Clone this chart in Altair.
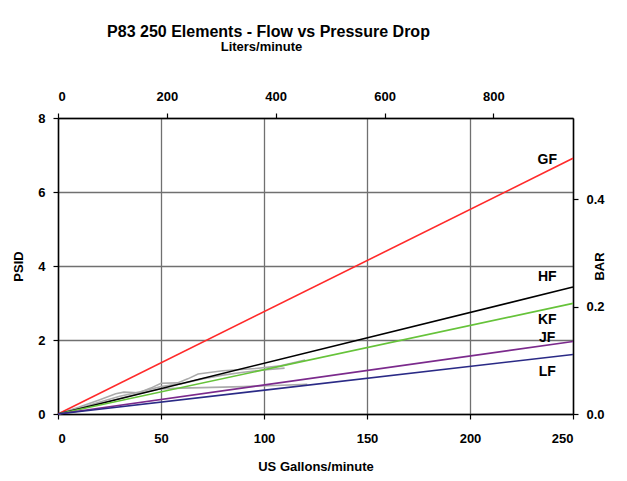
import altair as alt
import pandas as pd

# ---- data ----
series = ["GF", "HF", "KF", "JF", "LF"]
colors = ["#ff2a2a", "#000000", "#66c33a", "#7b2a8c", "#2a2a86"]
gpm_points = [0, 250]
psid_at_250 = [6.91, 3.43, 2.99, 1.96, 1.61]

label_gpm = [237.5, 237.5, 237.5, 237.5, 237.5]
label_psid = [6.87, 3.69, 2.54, 2.05, 1.14]

test1_gpm = [0, 10, 20, 28, 32, 39, 45, 50, 58, 63, 68, 80, 96, 108, 120]
test1_psid = [0, 0.18, 0.38, 0.55, 0.59, 0.57, 0.70, 0.83, 0.84, 0.95, 1.08, 1.17, 1.23, 1.30, 1.46]
test2_gpm = [0, 10, 20, 30, 40, 50, 60, 70, 80, 90, 100, 110]
test2_psid = [0, 0.15, 0.32, 0.48, 0.60, 0.74, 0.82, 0.95, 1.05, 1.13, 1.19, 1.24]
test3_gpm = [0, 10, 20, 30, 40, 50, 60, 75, 90, 105, 121]
test3_psid = [0, 0.13, 0.27, 0.42, 0.56, 0.68, 0.70, 0.72, 0.74, 0.77, 0.80]

gpm_ticks = [0, 50, 100, 150, 200, 250]
psid_ticks = [0, 2, 4, 6, 8]
lpm_ticks = [0, 200, 400, 600, 800]
bar_ticks = [0.0, 0.2, 0.4]

GPM_MAX = 250
PSID_MAX = 8
LPM_MAX = GPM_MAX * 3.78541
BAR_MAX = PSID_MAX * 0.0689476

# ---- tables ----
main_rows = []
for s, end in zip(series, psid_at_250):
    for g in gpm_points:
        main_rows.append({"series": s, "gpm": g, "psid": end * g / GPM_MAX})
main_df = pd.DataFrame(main_rows)

gray_rows = []
for cid, (gx, gy) in enumerate([(test1_gpm, test1_psid), (test2_gpm, test2_psid), (test3_gpm, test3_psid)]):
    for i, (a, b) in enumerate(zip(gx, gy)):
        gray_rows.append({"curve": cid, "order": i, "gpm": a, "psid": b})
gray_df = pd.DataFrame(gray_rows)

label_df = pd.DataFrame({"series": series, "gpm": label_gpm, "psid": label_psid})
sec_df = pd.DataFrame({"lpm": [0, LPM_MAX], "bar": [0, BAR_MAX]})

FONT = "Liberation Sans"

x_enc = alt.X(
    "gpm:Q",
    scale=alt.Scale(domain=[0, GPM_MAX], nice=False, zero=True),
    axis=alt.Axis(
        values=gpm_ticks, title="US Gallons/minute", grid=True,
        tickSize=5, labelPadding=13, titlePadding=15,
    ),
)
y_enc = alt.Y(
    "psid:Q",
    scale=alt.Scale(domain=[0, PSID_MAX], nice=False),
    axis=alt.Axis(
        values=psid_ticks, title="PSID", grid=True,
        tickSize=5, labelPadding=8, titlePadding=12,
    ),
)

gray = alt.Chart(gray_df).mark_line(color="#ababab", strokeWidth=1.6).encode(
    x=x_enc, y=y_enc, detail="curve:N", order="order:Q"
)
main = alt.Chart(main_df).mark_line(strokeWidth=1.6).encode(
    x=x_enc, y=y_enc,
    color=alt.Color("series:N", scale=alt.Scale(domain=series, range=colors), legend=None),
)
labels = alt.Chart(label_df).mark_text(
    font=FONT, fontWeight="bold", fontSize=14, color="black"
).encode(x=x_enc, y=y_enc, text="series:N")

secondary = alt.Chart(sec_df).mark_point(opacity=0).encode(
    x=alt.X(
        "lpm:Q",
        scale=alt.Scale(domain=[0, LPM_MAX], nice=False),
        axis=alt.Axis(
            orient="top", values=lpm_ticks, title="Liters/minute", grid=False,
            tickSize=5, labelPadding=10, titlePadding=37, titleX=203,
        ),
    ),
    y=alt.Y(
        "bar:Q",
        scale=alt.Scale(domain=[0, BAR_MAX], nice=False),
        axis=alt.Axis(
            orient="right", values=bar_ticks, format=".1f", title="BAR", grid=False,
            tickSize=5, labelPadding=8, titlePadding=2, titleAngle=270,
        ),
    ),
)

chart = (
    alt.layer(alt.layer(gray, main, labels), secondary)
    .resolve_scale(x="independent", y="independent")
    .properties(
        width=515,
        height=296,
        autosize="none",
        background="white",
        padding={"left": 50, "top": 110, "right": 46, "bottom": 58},
        title=alt.TitleParams(
            "P83 250 Elements - Flow vs Pressure Drop",
            font=FONT, fontSize=16, fontWeight="bold", color="black",
            anchor="middle", dx=-47, offset=0,
        ),
    )
    .configure_view(stroke=None)
    .configure_axis(
        labelFont=FONT, labelFontSize=13, labelFontWeight="bold", labelColor="black",
        titleFont=FONT, titleFontSize=13, titleFontWeight="bold", titleColor="black",
        domainColor="black", domainWidth=1.5, tickColor="black", tickWidth=1.2,
        gridColor="#707070", gridWidth=1.3, gridOpacity=1,
    )
)

chart.save("out.html", embed_options={"renderer": "svg", "actions": False})
